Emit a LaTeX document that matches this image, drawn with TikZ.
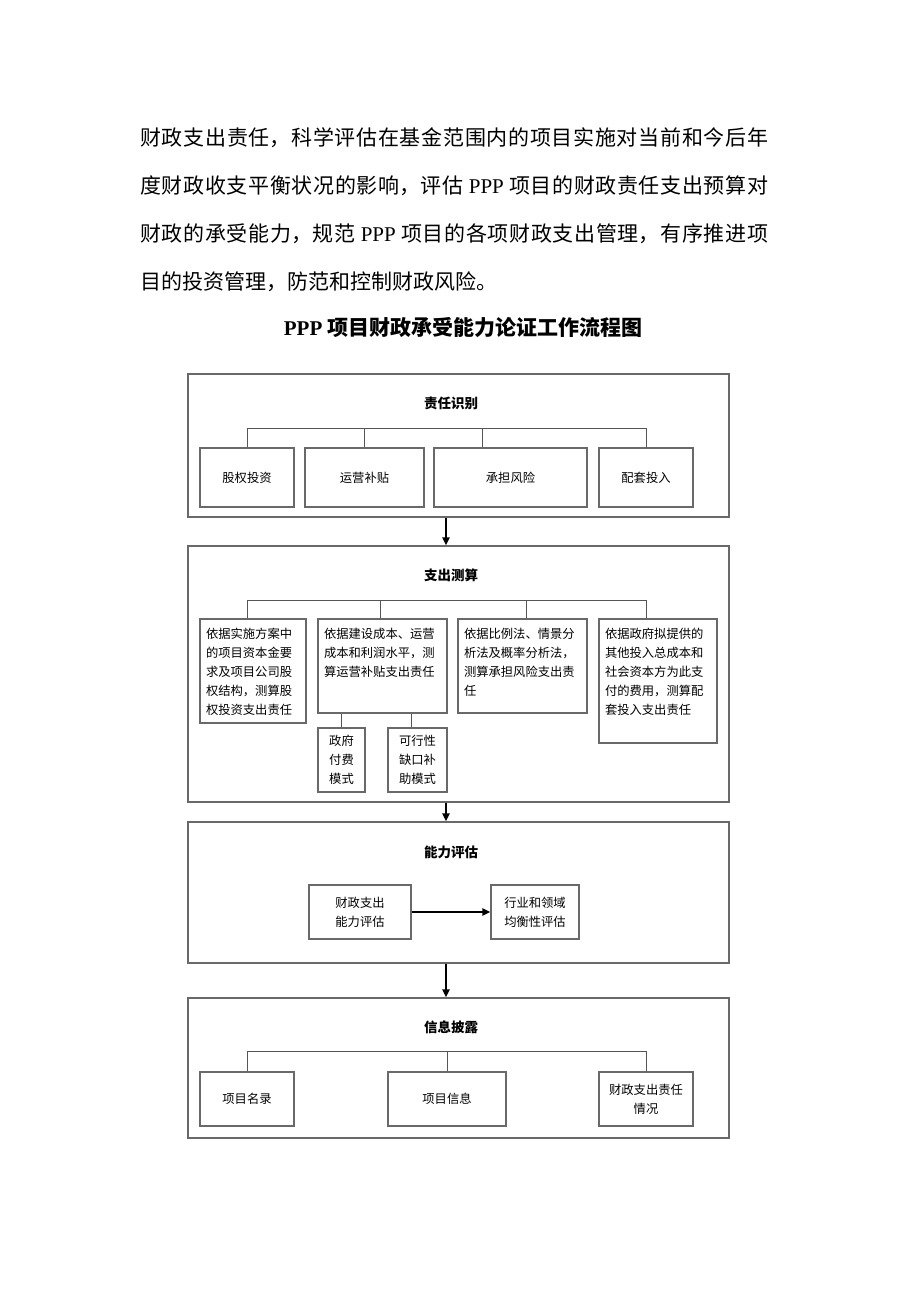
\documentclass[tikz,border=0pt]{standalone}
\usepackage{fontspec}
\setmainfont{Noto Sans CJK SC}
\newfontfamily\latinserif{Liberation Serif}
\XeTeXlinebreaklocale "zh"
\XeTeXlinebreakskip=0pt plus 3pt
\usetikzlibrary{arrows.meta, positioning, calc}
\definecolor{framegray}{RGB}{105, 105, 105}
\definecolor{linegray}{RGB}{85, 85, 85}
\tikzset{
    stageframe/.style={draw=framegray, line width=1.2pt, rectangle, minimum width=541pt, inner sep=0pt},
    stagetitle/.style={font=\fontsize{13.5pt}{16pt}\selectfont\bfseries, inner sep=0pt},
    itembox/.style={draw=framegray, line width=1.1pt, rectangle, minimum height=59pt, inner sep=0pt, align=center, font=\fontsize{12.3pt}{19pt}\selectfont},
    calcbox/.style={draw=framegray, line width=1.1pt, rectangle, inner xsep=6pt, inner ysep=5pt, font=\fontsize{12.3pt}{19pt}\selectfont},
    subbox/.style={draw=framegray, line width=1.1pt, rectangle, minimum height=64pt, inner sep=0pt, align=center, font=\fontsize{12.3pt}{19pt}\selectfont},
    treeline/.style={draw=linegray, line width=1pt},
    flowarrow/.style={-{Triangle[length=8pt, width=7pt]}, line width=2pt, black},
    bodyline/.style={anchor=base west, text width=628pt, align=justify, inner sep=0pt, font=\fontsize{21pt}{28pt}\selectfont, execute at begin node={\parfillskip=0pt\relax}},
}

\begin{document}
\begin{tikzpicture}[x=1pt, y=-1pt]
    \useasboundingbox (0,0) rectangle (920,1302);

    % Intro paragraph
    \node[bodyline] (para1) at (140,145) {财政支出责任，科学评估在基金范围内的项目实施对当前和今后年};
    \node[bodyline] (para2) at (140,193) {度财政收支平衡状况的影响，评估 {\latinserif PPP} 项目的财政责任支出预算对};
    \node[bodyline] (para3) at (140,241) {财政的承受能力，规范 {\latinserif PPP} 项目的各项财政支出管理，有序推进项};
    \node[anchor=base west, inner sep=0pt, font=\fontsize{21pt}{28pt}\selectfont] (para4) at (140,289) {目的投资管理，防范和控制财政风险。};

    % Chart title
    \node[anchor=base, inner sep=0pt, font=\fontsize{21pt}{24pt}\selectfont\bfseries] (charttitle) at (463,335) {{\latinserif PPP} 项目财政承受能力论证工作流程图};

    % Stage 1: responsibility identification
    \node[stageframe, minimum height=143pt] (idframe) at (458.5,445.5) {};
    \node[stagetitle] (idtitle) at (451,403) {责任识别};
    \node[itembox, minimum width=94pt] (equity) at (247,477.5) {股权投资};
    \node[itembox, minimum width=119pt] (subsidy) at (364.5,477.5) {运营补贴};
    \node[itembox, minimum width=153pt] (risk) at (510.5,477.5) {承担风险};
    \node[itembox, minimum width=94pt] (support) at (646,477.5) {配套投入};
    \draw[treeline] (equity.north) -- ++(0,-19) -| (support.north);
    \draw[treeline] (subsidy.north) -- ++(0,-19);
    \draw[treeline] ([xshift=-28.5pt]risk.north) -- ++(0,-19);

    % Stage 2: expenditure estimate
    \node[stageframe, minimum height=256pt] (calcframe) at (458.5,674) {};
    \node[stagetitle] (calctitle) at (451,575) {支出测算};
    \node[calcbox] (calcA) at (253,671) {
        \begin{minipage}[c][94pt][t]{94pt}
        \vspace*{4pt}
        依据实施方案中\\的项目资本金要\\求及项目公司股\\权结构，测算股\\权投资支出责任
        \end{minipage}
    };
    \node[calcbox] (calcB) at (382.5,666) {
        \begin{minipage}[c][84pt][t]{117pt}
        \vspace*{4pt}
        依据建设成本、运营\\成本和利润水平，测\\算运营补贴支出责任
        \end{minipage}
    };
    \node[calcbox] (calcC) at (522.5,666) {
        \begin{minipage}[c][84pt][t]{117pt}
        \vspace*{4pt}
        依据比例法、情景分\\析法及概率分析法，\\测算承担风险支出责\\任
        \end{minipage}
    };
    \node[calcbox] (calcD) at (658,681) {
        \begin{minipage}[c][114pt][t]{106pt}
        \vspace*{4pt}
        依据政府拟提供的\\其他投入总成本和\\社会资本方为此支\\付的费用，测算配\\套投入支出责任
        \end{minipage}
    };
    \node[subbox, minimum width=47pt] (govpay) at (341.5,760) {政府\\付费\\模式};
    \node[subbox, minimum width=59pt] (gapfund) at (417.5,760) {可行性\\缺口补\\助模式};
    \draw[treeline] ([xshift=-6pt]calcA.north) -- ++(0,-18) -| ([xshift=-12pt]calcD.north);
    \draw[treeline] ([xshift=-2.5pt]calcB.north) -- ++(0,-18);
    \draw[treeline] ([xshift=3.5pt]calcC.north) -- ++(0,-18);
    \draw[treeline] (calcB.south -| govpay.north) -- (govpay.north);
    \draw[treeline] ([xshift=-6.5pt]gapfund.north |- calcB.south) -- ([xshift=-6.5pt]gapfund.north);

    % Stage 3: capacity evaluation
    \node[stageframe, minimum height=141pt] (evalframe) at (458.5,892.5) {};
    \node[stagetitle] (evaltitle) at (451,852) {能力评估};
    \node[itembox, minimum width=102pt, minimum height=54pt] (fiscal) at (360,912) {财政支出\\能力评估};
    \node[itembox, minimum width=88pt, minimum height=54pt] (balance) at (535,912) {行业和领域\\均衡性评估};
    \draw[flowarrow] (fiscal) -- (balance);

    % Stage 4: information disclosure
    \node[stageframe, minimum height=140pt] (discframe) at (458.5,1068) {};
    \node[stagetitle] (disctitle) at (451,1027) {信息披露};
    \node[itembox, minimum width=94pt, minimum height=54pt] (catalog) at (247,1099) {项目名录};
    \node[itembox, minimum width=118pt, minimum height=54pt] (projinfo) at (447,1099) {项目信息};
    \node[itembox, minimum width=94pt, minimum height=54pt] (duty) at (646,1099) {财政支出责任\\情况};
    \draw[treeline] (catalog.north) -- ++(0,-20) -| (duty.north);
    \draw[treeline] (projinfo.north) -- ++(0,-20);

    % Flow between stages
    \draw[flowarrow] ([xshift=-12.5pt]idframe.south) -- ([xshift=-12.5pt]calcframe.north);
    \draw[flowarrow] ([xshift=-12.5pt]calcframe.south) -- ([xshift=-12.5pt]evalframe.north);
    \draw[flowarrow] ([xshift=-12.5pt]evalframe.south) -- ([xshift=-12.5pt]discframe.north);
\end{tikzpicture}
\end{document}
